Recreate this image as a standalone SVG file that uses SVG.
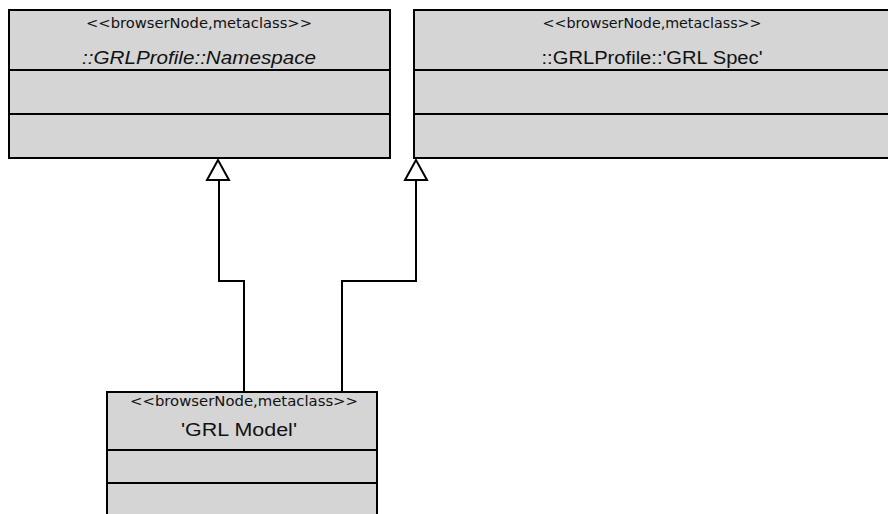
<svg xmlns="http://www.w3.org/2000/svg" width="888" height="514" viewBox="0 0 888 514">
<style>
.box{fill:#d5d5d5;stroke:#000;stroke-width:2}
.div{stroke:#000;stroke-width:2}
.st{font-family:"DejaVu Sans",sans-serif;font-size:14px;fill:#111;text-anchor:middle}
.nm{font-family:"Liberation Sans",Arial,sans-serif;font-size:18px;fill:#111;text-anchor:middle}
.conn{fill:none;stroke:#000;stroke-width:2}
.head{fill:#fff;stroke:#000;stroke-width:2;stroke-linejoin:miter}
</style>
<rect width="888" height="514" fill="#fff"/>
<g id="namespace">
<rect class="box" x="9" y="10" width="381" height="148"/>
<line class="div" x1="9" y1="70" x2="390" y2="70"/>
<line class="div" x1="9" y1="114" x2="390" y2="114"/>
<text class="st" x="199" y="28" textLength="226" lengthAdjust="spacingAndGlyphs">&lt;&lt;browserNode,metaclass&gt;&gt;</text>
<text class="nm" x="199" y="64" font-style="italic" textLength="234" lengthAdjust="spacingAndGlyphs">::GRLProfile::Namespace</text>
</g>
<g id="grlspec">
<rect class="box" x="414" y="10" width="480" height="148"/>
<line class="div" x1="414" y1="70" x2="894" y2="70"/>
<line class="div" x1="414" y1="114" x2="894" y2="114"/>
<text class="st" x="652" y="28" textLength="219" lengthAdjust="spacingAndGlyphs">&lt;&lt;browserNode,metaclass&gt;&gt;</text>
<text class="nm" x="652" y="64" textLength="221" lengthAdjust="spacingAndGlyphs">::GRLProfile::'GRL Spec'</text>
</g>
<g id="grlmodel">
<rect class="box" x="107" y="392" width="270" height="130"/>
<line class="div" x1="107" y1="450" x2="377" y2="450"/>
<line class="div" x1="107" y1="483" x2="377" y2="483"/>
<text class="st" x="244" y="406" textLength="228" lengthAdjust="spacingAndGlyphs">&lt;&lt;browserNode,metaclass&gt;&gt;</text>
<text class="nm" x="239" y="436" textLength="116" lengthAdjust="spacingAndGlyphs">'GRL Model'</text>
</g>
<g id="connectors">
<polyline class="conn" points="244,392 244,281 219,281 219,180"/>
<polygon class="head" points="218,160 207,180 229,180"/>
<polyline class="conn" points="342,392 342,281 416,281 416,180"/>
<polygon class="head" points="416,160 405,180 427,180"/>
</g>
</svg>
